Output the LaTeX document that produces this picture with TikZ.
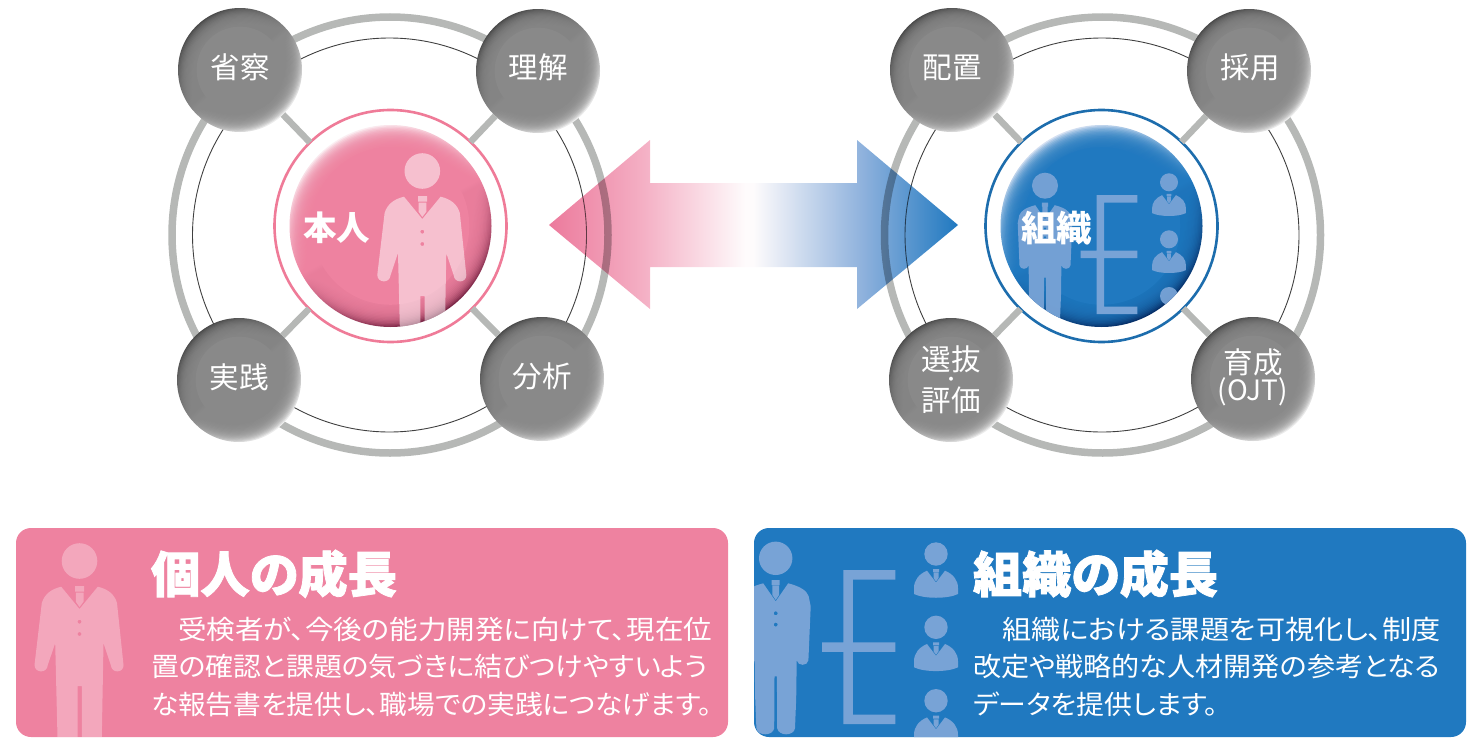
\documentclass[tikz,border=0pt]{standalone}
\usepackage{fontspec}
\usepackage{graphicx}
\newfontfamily\cjk{Noto Sans CJK JP}
\newfontfamily\cjkp[RawFeature=+palt]{Noto Sans CJK JP}
\newfontfamily\cjkh[BoldFeatures={FakeBold=1.6},RawFeature=+palt]{Noto Sans CJK JP}
\definecolor{pinkbase}{HTML}{EE82A0}
\definecolor{pinkdark}{HTML}{7A2545}
\definecolor{pinklight}{HTML}{FBEEF2}
\definecolor{bluebase}{HTML}{2079C0}
\definecolor{bluedark}{HTML}{062F68}
\definecolor{bluelight}{HTML}{D4E0F2}
\definecolor{bluefig}{HTML}{78A3D6}
\definecolor{graybase}{HTML}{898989}
\definecolor{graydark}{HTML}{4A4A4A}
\definecolor{graylight}{HTML}{EFEFEF}
\definecolor{ringgray}{HTML}{B6B8B6}
\definecolor{ag1}{HTML}{EC7A9C}
\definecolor{ag2}{HTML}{F4AFC4}
\definecolor{ag3}{HTML}{FEFBFC}
\definecolor{ag4}{HTML}{8CB0DC}
\definecolor{ag5}{HTML}{2079C0}
\pgfdeclareverticalshading{pinkrim}{100bp}{color(0bp)=(pinkdark); color(25bp)=(pinkdark); color(50bp)=(pinkbase); color(75bp)=(pinklight); color(100bp)=(pinklight)}
\pgfdeclareverticalshading{bluerim}{100bp}{color(0bp)=(bluedark); color(25bp)=(bluedark); color(50bp)=(bluebase); color(75bp)=(bluelight); color(100bp)=(bluelight)}
\pgfdeclareverticalshading{grayrim}{100bp}{color(0bp)=(graylight); color(25bp)=(graylight); color(50bp)=(graybase); color(75bp)=(graydark); color(100bp)=(graydark)}
\pgfdeclarehorizontalshading{arrowgrad}{100bp}{color(0bp)=(ag1); color(25bp)=(ag1); color(36.4bp)=(ag2); color(49bp)=(ag3); color(50bp)=(ag3); color(63.6bp)=(ag4); color(75bp)=(ag5); color(100bp)=(ag5)}
\tikzset{
  x=1pt,y=-1pt,
  bigring/.style={line width=7.5pt,draw=ringgray},
  thinring/.style={line width=0.9pt,draw=black!75},
  spoke/.style={line width=6.5pt,draw=ringgray},
  centerring/.style={circle,minimum size=232pt,inner sep=0pt,outer sep=0pt,fill=white,line width=2.6pt},
  satdisc/.style={circle,minimum size=124pt,inner sep=0pt,outer sep=0pt,shade,shading=grayrim,shading angle=40},
  coredisc/.style={circle,minimum size=202pt,inner sep=0pt,outer sep=0pt,shade,shading angle=28},
  sattext/.style={anchor=base,inner sep=0pt,outer sep=0pt,text=white,font=\cjk\fontsize{29.5}{29.5}\selectfont},
  coretext/.style={anchor=base,inner sep=0pt,outer sep=0pt,text=white,font=\cjk\bfseries\fontsize{33.5}{33.5}\selectfont},
  headtext/.style={anchor=base west,inner sep=0pt,outer sep=0pt,text=white,font=\cjkh\bfseries\fontsize{49}{49}\selectfont},
  bodytext/.style={anchor=base west,inner sep=0pt,outer sep=0pt,text=white,font=\cjkp\fontsize{26.5}{26.5}\selectfont},
  panel/.style={rounded corners=15pt,inner sep=0pt,outer sep=0pt}
}
\newcommand{\softcore}[4]{% centre, radius, colour, rim fraction
  \foreach \k in {1,...,16}{
    \pgfmathsetmacro{\rr}{#2*(1-#4*\k/16)}
    \fill[#3,opacity=.17] (#1) circle (\rr);
  }
  \pgfmathsetmacro{\rr}{#2*(1-#4)}
  \fill[#3] (#1) circle (\rr);
}
\newcommand{\satellite}[3]{% name, x, y
  \node[satdisc] (#1) at (#2,#3) {};
  \softcore{#1}{62}{graybase}{0.3}
}
\newcommand{\personwide}[5]{% x,y,scale,colour,opacity
  \begin{scope}[shift={(#1,#2)},scale=#3]
    \fill[#4,opacity=#5,even odd rule] (0,0) circle (17.8)
      (-18.3,25.7) -- (0,48) -- (18.3,25.7)
      .. controls (28,28) and (35,33) .. (37.5,42)
      -- (44,104) .. controls (44.5,112) and (32,113) .. (31.3,104)
      -- (24,82) -- (22.3,176) -- (2.3,176) -- (2.3,125) -- (-2,125) -- (-2,176) -- (-22,176)
      -- (-24.3,82) -- (-31.7,104) .. controls (-32.5,113) and (-45,112) .. (-45,104)
      -- (-37.7,42) .. controls (-35,33) and (-28,28) .. (-18.3,25.7) -- cycle
      (0,60.7) circle (2) (0,73) circle (2);
    \fill[#4,opacity=#5] (-4.3,25) -- (4.7,25) -- (4.7,30.7) -- (-4.3,30.7) -- cycle
      (-3.7,31.7) -- (4,31.7) -- (4,40.7) -- (0,46) -- (-3.7,40.7) -- cycle;
  \end{scope}
}
\newcommand{\personnarrow}[5]{%
  \begin{scope}[shift={(#1,#2)},scale=#3]
    \fill[#4,opacity=#5,even odd rule] (0,0) circle (16.7)
      (-12.5,25) -- (0,43) -- (12.5,25)
      .. controls (24,28) and (31,32) .. (33,38)
      -- (35,48) -- (32.7,102) .. controls (32,108) and (22,108) .. (21,102)
      -- (20.5,140) -- (19.3,170) .. controls (18,178) and (3,178) .. (1.5,170) -- (1.2,118) -- (-1.2,118)
      -- (-1.5,170) .. controls (-3,178) and (-18,178) .. (-19.3,170) -- (-20.5,140)
      -- (-21,102) .. controls (-22,108) and (-32,108) .. (-32.7,102)
      -- (-35,48) -- (-33,38) .. controls (-31,32) and (-24,28) .. (-12.5,25) -- cycle
      (0,55) circle (2) (0,66.3) circle (2);
    \fill[#4,opacity=#5] (-4,21.7) -- (4,21.7) -- (4,26.7) -- (-4,26.7) -- cycle
      (-3.3,27.3) -- (3.3,27.3) -- (3.3,36.7) -- (0,41.7) -- (-3.3,36.7) -- cycle;
  \end{scope}
}
\newcommand{\bust}[5]{% small staff figure
  \begin{scope}[shift={(#1,#2)},scale=#3]
    \fill[#4,opacity=#5] (0,0) circle (11.7)
      (-9,16.7) -- (0,28.5) -- (9,16.7)
      .. controls (17,20) and (22,26) .. (22,34) -- (22,40)
      .. controls (12,45) and (-12,45) .. (-22,40) -- (-22,34)
      .. controls (-22,26) and (-17,20) .. (-9,16.7) -- cycle;
    \fill[#4,opacity=#5] (-3,15) -- (3,15) -- (3,18) -- (-3,18) -- cycle
      (-2.5,18.7) -- (2.5,18.7) -- (2.5,24) -- (0,27.5) -- (-2.5,24) -- cycle;
  \end{scope}
}
\newcommand{\tree}[9]{%
  \fill[#9] (#2,#5) -- (#4,#5) -- (#4,#5+#3) -- (#2+#3,#5+#3) -- (#2+#3,#6) -- (#4,#6) -- (#4,#6+#3) -- (#2+#3,#6+#3) -- (#2+#3,#7) -- (#4,#7) -- (#4,#7+#3) -- (#2,#7+#3) -- (#2,#6+#3) -- (#1,#6+#3) -- (#1,#6) -- (#2,#6) -- cycle;
}
\newcommand{\bodyline}[5]{% name,x,baseline,width,text
  \node[bodytext] (#1) at (#2,#3) {\resizebox{#4pt}{\height}{#5}};
}
\begin{document}
\begin{tikzpicture}
\useasboundingbox (0,0) rectangle (1480,744);
\draw[bigring] (390,235) circle (218);
\draw[thinring] (389.5,235) circle (197);
\draw[bigring] (1102.5,235) circle (218);
\draw[thinring] (1102,235) circle (197);
% ---------- left group
\node[centerring,draw=pinkbase!95!red] (self) at (390.5,226) {};
\satellite{ltl}{240}{70}
\satellite{ltr}{538}{71}
\satellite{lbl}{239}{380}
\satellite{lbr}{542}{379}
\foreach \s in {ltl,ltr,lbl,lbr} \draw[spoke] (\s) -- (self);
\node[coredisc,shading=pinkrim] (selfdisc) at (self) {};
\softcore{selfdisc}{101}{pinkbase}{0.22}
\begin{scope}
  \clip (selfdisc.center) circle (101);
  \personwide{422.3}{171}{1.0}{white}{.5}
\end{scope}
\node[coretext] (selftext) at (336.5,240.5) {本人};
% ---------- right group
\node[centerring,draw=bluebase!90!black] (org) at (1101.5,226) {};
\satellite{rtl}{952}{70}
\satellite{rtr}{1249}{71}
\satellite{rbl}{951}{380}
\satellite{rbr}{1253}{379}
\foreach \s in {rtl,rtr,rbl,rbr} \draw[spoke] (\s) -- (org);
\node[coredisc,shading=bluerim] (orgdisc) at (org) {};
\softcore{orgdisc}{101}{bluebase}{0.22}
\begin{scope}
  \clip (orgdisc.center) circle (101);
  \personnarrow{1045}{185.7}{.78}{bluefig}{.95}
  \tree{1080.7}{1096.7}{7.5}{1137.3}{195}{250.7}{306.7}{0}{bluefig}
  \bust{1169}{182.3}{.77}{bluefig}{.95}
  \bust{1169}{239.3}{.77}{bluefig}{.95}
  \bust{1169}{296}{.77}{bluefig}{.95}
\end{scope}
\node[coretext,font=\cjk\bfseries\fontsize{35.5}{35.5}\selectfont] (orgtext) at (1056.5,241.5) {組織};
% ---------- double arrow, multiplying over the rings
\def\arrowpath{(549,225) -- (650,140) -- (650,183) -- (857,183) -- (857,140) -- (958,225) -- (857,309) -- (857,267) -- (650,267) -- (650,309) -- cycle}
\shade[shading=arrowgrad] \arrowpath;
\begin{scope}
  \clip \arrowpath;
  \draw[line width=7.5pt,draw=black,opacity=.29] (390,235) circle (218);
  \draw[line width=0.9pt,draw=black,opacity=.6] (389.5,235) circle (197);
  \draw[line width=7.5pt,draw=black,opacity=.29] (1102.5,235) circle (218);
  \draw[line width=0.9pt,draw=black,opacity=.6] (1102,235) circle (197);
\end{scope}
% ---------- satellite labels
\node[sattext] (t1) at (240,78) {省察};
\node[sattext] (t2) at (538,78) {理解};
\node[sattext] (t3) at (239,388) {実践};
\node[sattext] (t4) at (542,387) {分析};
\node[sattext] (t5) at (952,78) {配置};
\node[sattext] (t6) at (1250,78) {採用};
\node[sattext] (t7) at (951,370) {選抜};
\node[sattext,font=\cjk\bfseries\fontsize{14}{14}\selectfont] (t8) at (951,384) {・};
\node[sattext] (t9) at (951,411) {評価};
\node[sattext] (t10) at (1253,373) {育成};
\node[sattext,font=\cjk\fontsize{28}{28}\selectfont] (t11) at (1253,400) {(OJT)};
% ---------- left panel
\node[panel,fill=pinkbase,minimum width=712pt,minimum height=209pt,anchor=north west] (lpanel) at (16,528) {};
\begin{scope}
  \clip[rounded corners=15pt] (16,528) rectangle (728,737);
  \personwide{79.5}{561}{1.0}{white}{.3}
\end{scope}
\node[headtext] (lhead) at (151,592.5) {\resizebox{246pt}{\height}{個人の成長}};
\bodyline{l1}{178}{639}{534}{受検者が、今後の能力開発に向けて、現在位}
\bodyline{l2}{151}{676}{557}{置の確認と課題の気づきに結びつけやすいよう}
\bodyline{l3}{151}{714}{561}{な報告書を提供し、職場での実践につなげます。}
% ---------- right panel
\node[panel,fill=bluebase,minimum width=712pt,minimum height=209pt,anchor=north west] (rpanel) at (754,528) {};
\begin{scope}
  \clip[rounded corners=15pt] (754,528) rectangle (1466,737);
  \personnarrow{775.7}{558.3}{1.0}{bluefig}{1}
  \tree{822}{843.3}{9.5}{895.3}{570}{642.3}{714.7}{0}{bluefig}
  \bust{936}{554}{1}{bluefig}{1}
  \bust{936}{627.3}{1}{bluefig}{1}
  \bust{936}{700.7}{1}{bluefig}{1}
\end{scope}
\node[headtext] (rhead) at (973,592.5) {\resizebox{245pt}{\height}{組織の成長}};
\bodyline{r1}{1002}{639}{439}{組織における課題を可視化し、制度}
\bodyline{r2}{973}{676}{467}{改定や戦略的な人材開発の参考となる}
\bodyline{r3}{973}{714}{245}{データを提供します。}
\end{tikzpicture}
\end{document}
